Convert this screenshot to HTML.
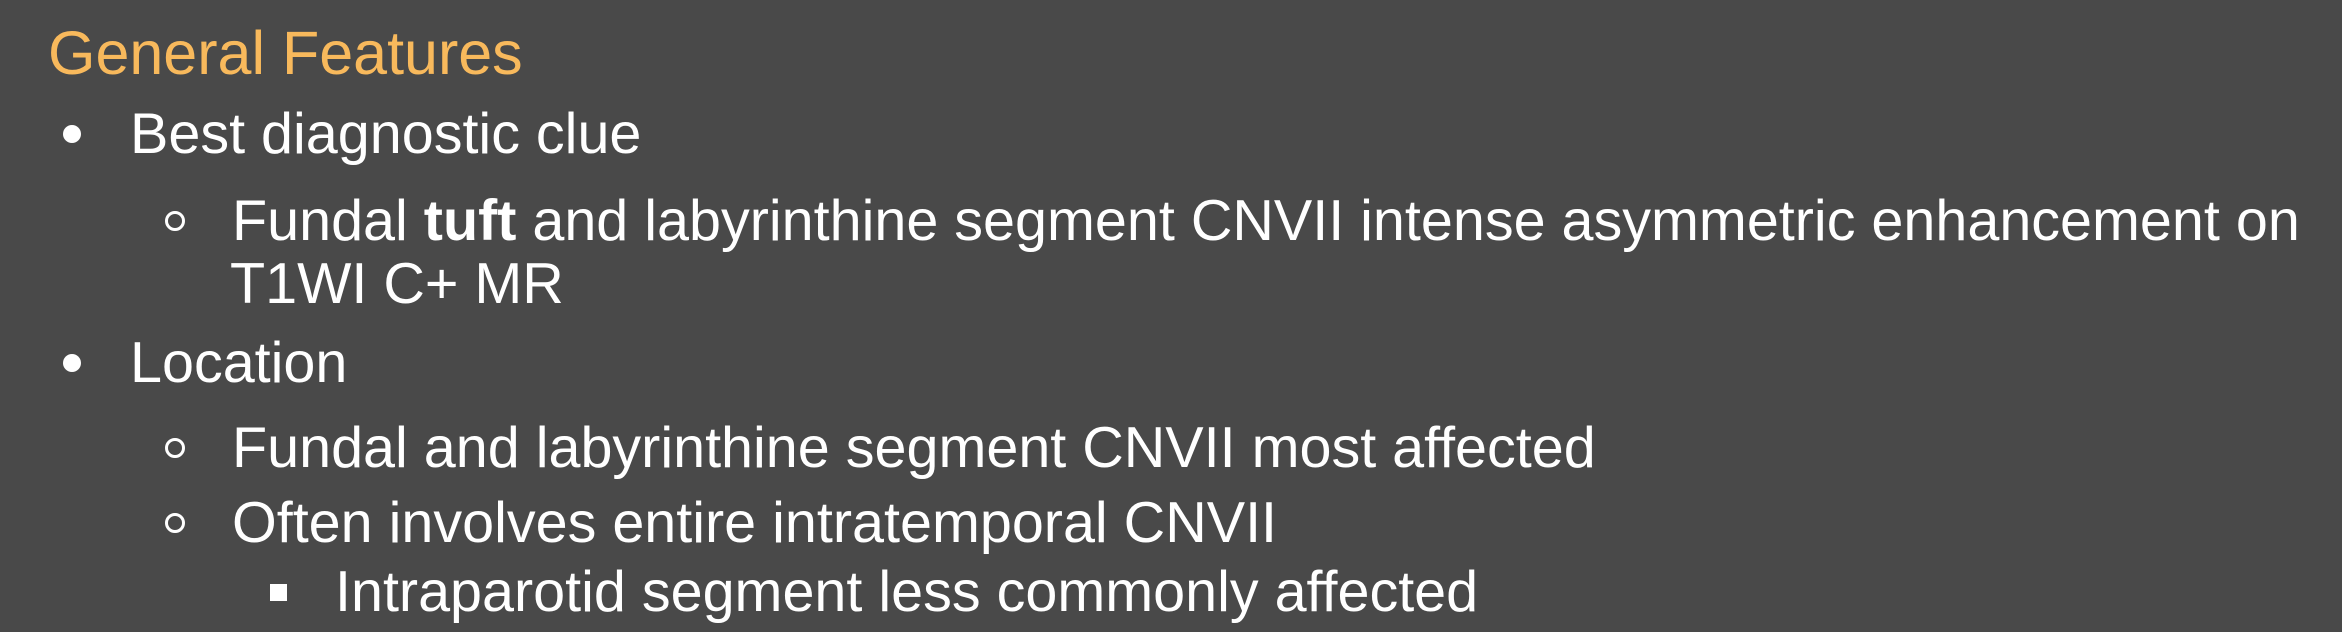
<!DOCTYPE html>
<html>
<head>
<meta charset="utf-8">
<style>
  html,body{margin:0;padding:0;}
  body{width:2342px;height:632px;background:#494949;overflow:hidden;position:relative;font-family:"Liberation Sans",sans-serif;color:#ffffff;}
  .t{position:absolute;white-space:nowrap;line-height:60px;height:60px;font-size:57.5px;}
  .title{position:absolute;left:48px;top:21px;font-size:61px;line-height:64px;color:#f8b95c;white-space:nowrap;}
  .dot{position:absolute;width:18px;height:18px;border-radius:50%;background:#fff;}
  .ring{position:absolute;width:14px;height:14px;border-radius:50%;border:3px solid #fff;}
  .sq{position:absolute;width:17px;height:17px;background:#fff;}
</style>
</head>
<body>
  <div class="title">General Features</div>

  <div class="dot" style="left:63px;top:125px"></div>
  <div class="t" style="left:130px;top:104px">Best diagnostic clue</div>

  <div class="ring" style="left:165px;top:211px"></div>
  <div class="t" style="left:232px;top:191px">Fundal <b>tuft</b> and labyrinthine segment CNVII intense asymmetric enhancement on</div>
  <div class="t" style="left:230px;top:254px">T1WI C+ MR</div>

  <div class="dot" style="left:63px;top:354px"></div>
  <div class="t" style="left:130px;top:333px">Location</div>

  <div class="ring" style="left:165px;top:438px"></div>
  <div class="t" style="left:232px;top:418px">Fundal and labyrinthine segment CNVII most affected</div>

  <div class="ring" style="left:165px;top:513px"></div>
  <div class="t" style="left:232px;top:493px">Often involves entire intratemporal CNVII</div>

  <div class="sq" style="left:270px;top:584px"></div>
  <div class="t" style="left:335px;top:562px">Intraparotid segment less commonly affected</div>
</body>
</html>
